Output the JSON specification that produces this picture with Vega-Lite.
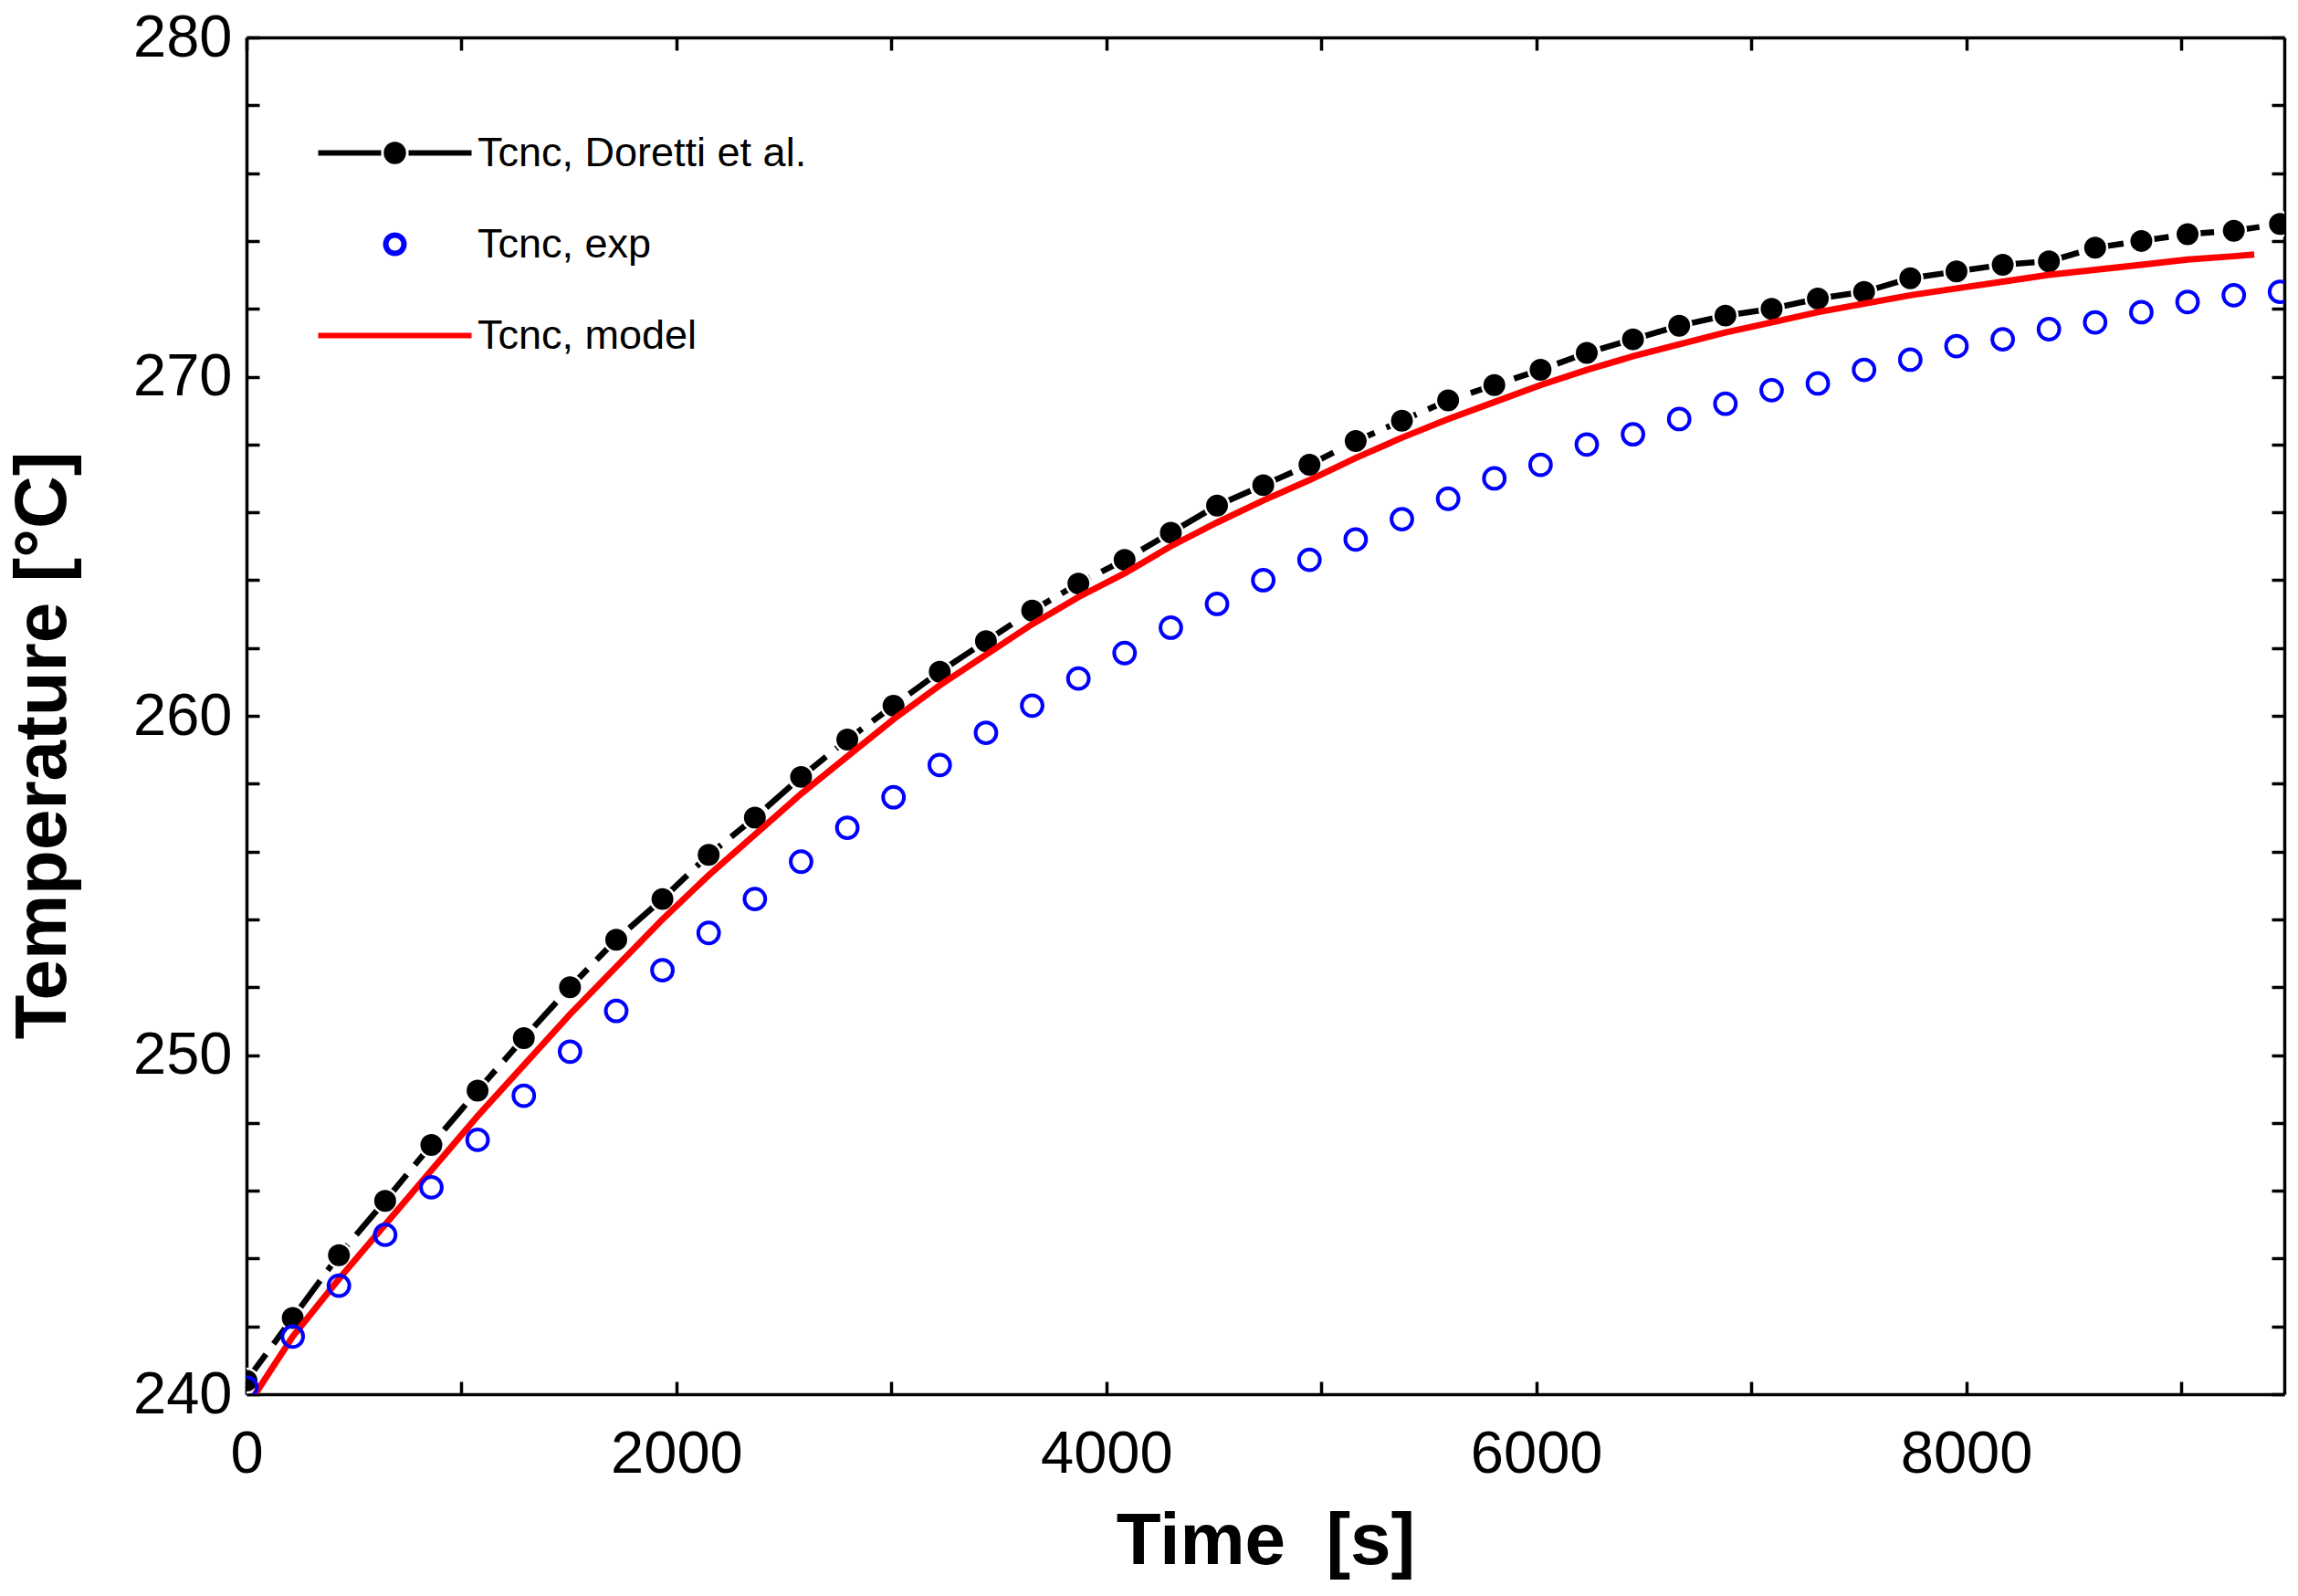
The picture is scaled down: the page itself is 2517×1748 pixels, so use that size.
{
  "$schema": "https://vega.github.io/schema/vega-lite/v6.json",
  "width": 2232,
  "height": 1486,
  "autosize": {"type": "none"},
  "padding": {"left": 270, "top": 41, "right": 15, "bottom": 221},
  "background": "white",
  "config": {
    "view": {"stroke": null},
    "axis": {
      "domainColor": "black",
      "domainWidth": 3.5,
      "tickColor": "black",
      "tickWidth": 3.5,
      "tickSize": -14,
      "grid": false,
      "labelFont": "Liberation Sans",
      "labelFontSize": 65,
      "labelColor": "black",
      "labelOverlap": false,
      "labelFlush": false,
      "titleFont": "Liberation Sans",
      "titleFontSize": 80,
      "titleFontWeight": "bold",
      "titleColor": "black"
    }
  },
  "data": {
    "values": [
      {"series": "Tcnc, Doretti et al.", "t": 0, "T": 240.4},
      {"series": "Tcnc, Doretti et al.", "t": 215, "T": 242.25},
      {"series": "Tcnc, Doretti et al.", "t": 430, "T": 244.1},
      {"series": "Tcnc, Doretti et al.", "t": 645, "T": 245.7},
      {"series": "Tcnc, Doretti et al.", "t": 860, "T": 247.35},
      {"series": "Tcnc, Doretti et al.", "t": 1075, "T": 248.95},
      {"series": "Tcnc, Doretti et al.", "t": 1290, "T": 250.5},
      {"series": "Tcnc, Doretti et al.", "t": 1505, "T": 252.0},
      {"series": "Tcnc, Doretti et al.", "t": 1720, "T": 253.4},
      {"series": "Tcnc, Doretti et al.", "t": 1935, "T": 254.6},
      {"series": "Tcnc, Doretti et al.", "t": 2150, "T": 255.9},
      {"series": "Tcnc, Doretti et al.", "t": 2365, "T": 257.0},
      {"series": "Tcnc, Doretti et al.", "t": 2580, "T": 258.2},
      {"series": "Tcnc, Doretti et al.", "t": 2795, "T": 259.3},
      {"series": "Tcnc, Doretti et al.", "t": 3010, "T": 260.3},
      {"series": "Tcnc, Doretti et al.", "t": 3225, "T": 261.3},
      {"series": "Tcnc, Doretti et al.", "t": 3440, "T": 262.2},
      {"series": "Tcnc, Doretti et al.", "t": 3655, "T": 263.1},
      {"series": "Tcnc, Doretti et al.", "t": 3870, "T": 263.9},
      {"series": "Tcnc, Doretti et al.", "t": 4085, "T": 264.6},
      {"series": "Tcnc, Doretti et al.", "t": 4300, "T": 265.4},
      {"series": "Tcnc, Doretti et al.", "t": 4515, "T": 266.2},
      {"series": "Tcnc, Doretti et al.", "t": 4730, "T": 266.8},
      {"series": "Tcnc, Doretti et al.", "t": 4945, "T": 267.4},
      {"series": "Tcnc, Doretti et al.", "t": 5160, "T": 268.1},
      {"series": "Tcnc, Doretti et al.", "t": 5375, "T": 268.7},
      {"series": "Tcnc, Doretti et al.", "t": 5590, "T": 269.3},
      {"series": "Tcnc, Doretti et al.", "t": 5805, "T": 269.75},
      {"series": "Tcnc, Doretti et al.", "t": 6020, "T": 270.2},
      {"series": "Tcnc, Doretti et al.", "t": 6235, "T": 270.7},
      {"series": "Tcnc, Doretti et al.", "t": 6450, "T": 271.1},
      {"series": "Tcnc, Doretti et al.", "t": 6665, "T": 271.5},
      {"series": "Tcnc, Doretti et al.", "t": 6880, "T": 271.8},
      {"series": "Tcnc, Doretti et al.", "t": 7095, "T": 272.0},
      {"series": "Tcnc, Doretti et al.", "t": 7310, "T": 272.3},
      {"series": "Tcnc, Doretti et al.", "t": 7525, "T": 272.5},
      {"series": "Tcnc, Doretti et al.", "t": 7740, "T": 272.9},
      {"series": "Tcnc, Doretti et al.", "t": 7955, "T": 273.1},
      {"series": "Tcnc, Doretti et al.", "t": 8170, "T": 273.3},
      {"series": "Tcnc, Doretti et al.", "t": 8385, "T": 273.4},
      {"series": "Tcnc, Doretti et al.", "t": 8600, "T": 273.8},
      {"series": "Tcnc, Doretti et al.", "t": 8815, "T": 274.0},
      {"series": "Tcnc, Doretti et al.", "t": 9030, "T": 274.2},
      {"series": "Tcnc, Doretti et al.", "t": 9245, "T": 274.3},
      {"series": "Tcnc, Doretti et al.", "t": 9460, "T": 274.5},
      {"series": "Tcnc, exp", "t": 0, "T": 240.2},
      {"series": "Tcnc, exp", "t": 215, "T": 241.7},
      {"series": "Tcnc, exp", "t": 430, "T": 243.2},
      {"series": "Tcnc, exp", "t": 645, "T": 244.7},
      {"series": "Tcnc, exp", "t": 860, "T": 246.1},
      {"series": "Tcnc, exp", "t": 1075, "T": 247.5},
      {"series": "Tcnc, exp", "t": 1290, "T": 248.8},
      {"series": "Tcnc, exp", "t": 1505, "T": 250.1},
      {"series": "Tcnc, exp", "t": 1720, "T": 251.3},
      {"series": "Tcnc, exp", "t": 1935, "T": 252.5},
      {"series": "Tcnc, exp", "t": 2150, "T": 253.6},
      {"series": "Tcnc, exp", "t": 2365, "T": 254.6},
      {"series": "Tcnc, exp", "t": 2580, "T": 255.7},
      {"series": "Tcnc, exp", "t": 2795, "T": 256.7},
      {"series": "Tcnc, exp", "t": 3010, "T": 257.6},
      {"series": "Tcnc, exp", "t": 3225, "T": 258.55},
      {"series": "Tcnc, exp", "t": 3440, "T": 259.5},
      {"series": "Tcnc, exp", "t": 3655, "T": 260.3},
      {"series": "Tcnc, exp", "t": 3870, "T": 261.1},
      {"series": "Tcnc, exp", "t": 4085, "T": 261.85},
      {"series": "Tcnc, exp", "t": 4300, "T": 262.6},
      {"series": "Tcnc, exp", "t": 4515, "T": 263.3},
      {"series": "Tcnc, exp", "t": 4730, "T": 264.0},
      {"series": "Tcnc, exp", "t": 4945, "T": 264.6},
      {"series": "Tcnc, exp", "t": 5160, "T": 265.2},
      {"series": "Tcnc, exp", "t": 5375, "T": 265.8},
      {"series": "Tcnc, exp", "t": 5590, "T": 266.4},
      {"series": "Tcnc, exp", "t": 5805, "T": 267.0},
      {"series": "Tcnc, exp", "t": 6020, "T": 267.4},
      {"series": "Tcnc, exp", "t": 6235, "T": 268.0},
      {"series": "Tcnc, exp", "t": 6450, "T": 268.3},
      {"series": "Tcnc, exp", "t": 6665, "T": 268.75},
      {"series": "Tcnc, exp", "t": 6880, "T": 269.2},
      {"series": "Tcnc, exp", "t": 7095, "T": 269.6},
      {"series": "Tcnc, exp", "t": 7310, "T": 269.8},
      {"series": "Tcnc, exp", "t": 7525, "T": 270.2},
      {"series": "Tcnc, exp", "t": 7740, "T": 270.5},
      {"series": "Tcnc, exp", "t": 7955, "T": 270.9},
      {"series": "Tcnc, exp", "t": 8170, "T": 271.1},
      {"series": "Tcnc, exp", "t": 8385, "T": 271.4},
      {"series": "Tcnc, exp", "t": 8600, "T": 271.6},
      {"series": "Tcnc, exp", "t": 8815, "T": 271.9},
      {"series": "Tcnc, exp", "t": 9030, "T": 272.2},
      {"series": "Tcnc, exp", "t": 9245, "T": 272.4},
      {"series": "Tcnc, exp", "t": 9460, "T": 272.5},
      {"series": "Tcnc, model", "t": 40, "T": 240.0},
      {"series": "Tcnc, model", "t": 215, "T": 241.7},
      {"series": "Tcnc, model", "t": 430, "T": 243.4},
      {"series": "Tcnc, model", "t": 645, "T": 245.0},
      {"series": "Tcnc, model", "t": 860, "T": 246.6},
      {"series": "Tcnc, model", "t": 1075, "T": 248.2},
      {"series": "Tcnc, model", "t": 1290, "T": 249.7},
      {"series": "Tcnc, model", "t": 1505, "T": 251.2},
      {"series": "Tcnc, model", "t": 1720, "T": 252.6},
      {"series": "Tcnc, model", "t": 1935, "T": 254.0},
      {"series": "Tcnc, model", "t": 2150, "T": 255.3},
      {"series": "Tcnc, model", "t": 2365, "T": 256.5},
      {"series": "Tcnc, model", "t": 2580, "T": 257.7},
      {"series": "Tcnc, model", "t": 2795, "T": 258.8},
      {"series": "Tcnc, model", "t": 3010, "T": 259.9},
      {"series": "Tcnc, model", "t": 3225, "T": 260.9},
      {"series": "Tcnc, model", "t": 3440, "T": 261.8},
      {"series": "Tcnc, model", "t": 3655, "T": 262.7},
      {"series": "Tcnc, model", "t": 3870, "T": 263.5},
      {"series": "Tcnc, model", "t": 4085, "T": 264.2},
      {"series": "Tcnc, model", "t": 4300, "T": 265.0},
      {"series": "Tcnc, model", "t": 4515, "T": 265.7},
      {"series": "Tcnc, model", "t": 4730, "T": 266.35},
      {"series": "Tcnc, model", "t": 4945, "T": 266.95},
      {"series": "Tcnc, model", "t": 5160, "T": 267.6},
      {"series": "Tcnc, model", "t": 5375, "T": 268.2},
      {"series": "Tcnc, model", "t": 5590, "T": 268.75},
      {"series": "Tcnc, model", "t": 5805, "T": 269.25},
      {"series": "Tcnc, model", "t": 6020, "T": 269.75},
      {"series": "Tcnc, model", "t": 6235, "T": 270.2},
      {"series": "Tcnc, model", "t": 6450, "T": 270.6},
      {"series": "Tcnc, model", "t": 6665, "T": 270.95},
      {"series": "Tcnc, model", "t": 6880, "T": 271.3},
      {"series": "Tcnc, model", "t": 7095, "T": 271.6},
      {"series": "Tcnc, model", "t": 7310, "T": 271.9},
      {"series": "Tcnc, model", "t": 7525, "T": 272.15},
      {"series": "Tcnc, model", "t": 7740, "T": 272.4},
      {"series": "Tcnc, model", "t": 7955, "T": 272.6},
      {"series": "Tcnc, model", "t": 8170, "T": 272.8},
      {"series": "Tcnc, model", "t": 8385, "T": 273.0},
      {"series": "Tcnc, model", "t": 8600, "T": 273.15},
      {"series": "Tcnc, model", "t": 8815, "T": 273.3},
      {"series": "Tcnc, model", "t": 9030, "T": 273.45},
      {"series": "Tcnc, model", "t": 9245, "T": 273.55},
      {"series": "Tcnc, model", "t": 9340, "T": 273.6}
    ]
  },
  "layer": [
    {
      "transform": [{"filter": "datum.series === 'Tcnc, Doretti et al.'"}],
      "mark": {"type": "line", "color": "black", "strokeWidth": 6.5, "strokeDash": [36, 14], "clip": true},
      "encoding": {
        "x": {
          "field": "t", "type": "quantitative",
          "scale": {"domain": [0, 9480], "nice": false, "zero": false},
          "axis": {
            "orient": "bottom",
            "title": "Time \u00a0[s]",
            "values": [0, 1000, 2000, 3000, 4000, 5000, 6000, 7000, 8000, 9000],
            "labelExpr": "datum.value % 2000 === 0 ? datum.label : ''",
            "format": "d",
            "labelPadding": 48,
            "titlePadding": 24,
            "encode": {"ticks": {"update": {"y2": {"signal": "datum.value % 2000 === 0 ? -23 : -14"}}}}
          }
        },
        "y": {
          "field": "T", "type": "quantitative",
          "scale": {"domain": [240, 280], "nice": false, "zero": false},
          "axis": {
            "orient": "left",
            "title": "Temperature [°C]",
            "values": [240, 242, 244, 246, 248, 250, 252, 254, 256, 258, 260, 262, 264, 266, 268, 270, 272, 274, 276, 278, 280],
            "labelExpr": "datum.value % 10 === 0 ? datum.label : ''",
            "labelPadding": 30,
            "titleX": -182,
            "titleY": 775,
            "encode": {"ticks": {"update": {"x2": {"signal": "datum.value % 10 === 0 ? 23 : 14"}}}}
          }
        }
      }
    },
    {
      "transform": [{"filter": "datum.series === 'Tcnc, Doretti et al.'"}],
      "mark": {"type": "point", "shape": "circle", "filled": true, "fill": "black", "stroke": "white", "strokeWidth": 2.5, "size": 700, "opacity": 1, "clip": true},
      "encoding": {
        "x": {"field": "t", "type": "quantitative", "axis": null},
        "y": {"field": "T", "type": "quantitative", "axis": null}
      }
    },
    {
      "transform": [{"filter": "datum.series === 'Tcnc, model'"}],
      "mark": {"type": "line", "color": "#ff0000", "strokeWidth": 7, "clip": true},
      "encoding": {
        "x": {"field": "t", "type": "quantitative", "axis": null},
        "y": {"field": "T", "type": "quantitative", "axis": null}
      }
    },
    {
      "transform": [{"filter": "datum.series === 'Tcnc, exp'"}],
      "mark": {"type": "point", "shape": "circle", "filled": false, "stroke": "#0000ff", "strokeWidth": 4, "size": 520, "opacity": 1, "clip": true},
      "encoding": {
        "x": {"field": "t", "type": "quantitative", "axis": null},
        "y": {"field": "T", "type": "quantitative", "axis": null}
      }
    },
    {
      "transform": [{"filter": "datum.series === 'legend only'"}],
      "mark": {"type": "point", "size": 16, "opacity": 1, "strokeWidth": 6},
      "encoding": {
        "x": {"field": "t", "type": "quantitative", "axis": null},
        "y": {"field": "T", "type": "quantitative", "axis": null},
        "shape": {
          "field": "series", "type": "nominal",
          "scale": {
            "domain": ["Tcnc, Doretti et al.", "Tcnc, exp", "Tcnc, model"],
            "range": [
              "M-42,0H-7.5M7.5,0H42M-4.6,0A4.6,4.6 0 1,0 4.6,0A4.6,4.6 0 1,0 -4.6,0",
              "M-5,0A5,5 0 1,0 5,0A5,5 0 1,0 -5,0",
              "M-42,0H42"
            ]
          },
          "legend": {
            "orient": "none",
            "legendX": 140,
            "legendY": 104,
            "title": null,
            "padding": 0,
            "labelFont": "Liberation Sans",
            "labelFontSize": 45,
            "labelColor": "black",
            "labelLimit": 0,
            "labelOffset": 68,
            "rowPadding": 54,
            "symbolSize": 16,
            "symbolStrokeWidth": 6,
            "symbolOpacity": 1
          }
        },
        "fill": {
          "field": "series", "type": "nominal",
          "scale": {"domain": ["Tcnc, Doretti et al.", "Tcnc, exp", "Tcnc, model"], "range": ["black", "transparent", "transparent"]}
        },
        "stroke": {
          "field": "series", "type": "nominal",
          "scale": {"domain": ["Tcnc, Doretti et al.", "Tcnc, exp", "Tcnc, model"], "range": ["black", "#0000ff", "#ff0000"]}
        }
      }
    },
    {
      "transform": [{"filter": "datum.series === 'Tcnc, model'"}],
      "mark": {"type": "point", "opacity": 0},
      "encoding": {
        "x": {
          "field": "t", "type": "quantitative",
          "axis": {
            "orient": "top",
            "title": null,
            "labels": false,
            "values": [0, 1000, 2000, 3000, 4000, 5000, 6000, 7000, 8000, 9000],
            "encode": {"ticks": {"update": {"y2": {"signal": "datum.value % 2000 === 0 ? 23 : 14"}}}}
          }
        },
        "y": {
          "field": "T", "type": "quantitative",
          "axis": {
            "orient": "right",
            "title": null,
            "labels": false,
            "values": [240, 242, 244, 246, 248, 250, 252, 254, 256, 258, 260, 262, 264, 266, 268, 270, 272, 274, 276, 278, 280],
            "encode": {"ticks": {"update": {"x2": {"signal": "datum.value % 10 === 0 ? -23 : -14"}}}}
          }
        }
      }
    }
  ],
  "resolve": {"axis": {"x": "independent", "y": "independent"}}
}
